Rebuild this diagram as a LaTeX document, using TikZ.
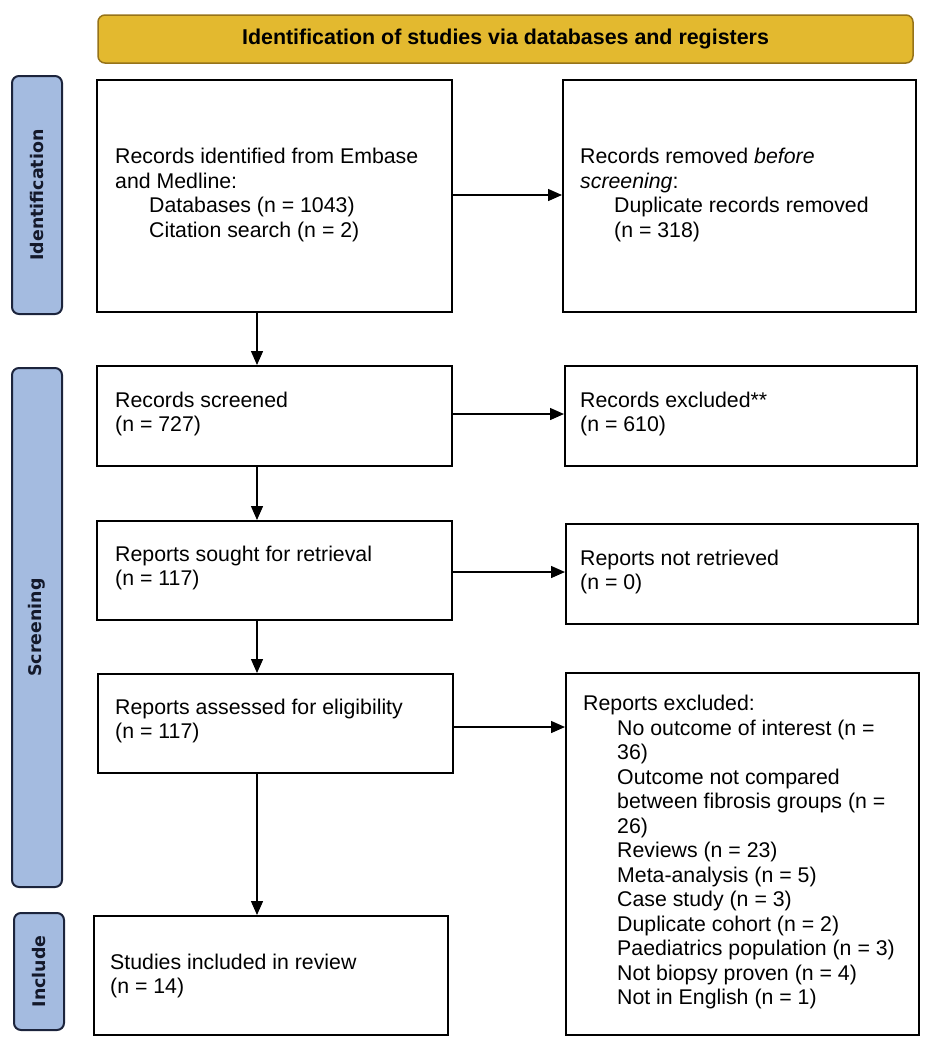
\documentclass[tikz,border=0pt]{standalone}
\usepackage{fontspec}
\setmainfont{Liberation Sans}
\newfontfamily\sidefont{DejaVu Sans}
\usetikzlibrary{arrows.meta,calc}
\definecolor{gold}{RGB}{227,185,47}
\definecolor{goldline}{RGB}{150,115,25}
\definecolor{sideblue}{RGB}{164,187,224}
\definecolor{navy}{RGB}{28,36,60}
\newcommand{\bx}[6]{\node[#6, minimum width={#4-#2}, minimum height={#5-#3}] (#1) at ({(#2+#4)/2},{(#3+#5)/2}) {};}
\newcommand{\ind}{\hspace*{34pt}}
\begin{document}
\begin{tikzpicture}[x=1pt,y=-1pt,
  box/.style={draw=black,line width=2pt,inner sep=0pt,fill=white},
  txt/.style={anchor=west,align=left,inner sep=0pt,font=\fontsize{21.3}{24.5}\selectfont},
  side/.style={draw=navy,fill=sideblue,line width=2pt,rounded corners=7pt,inner sep=0pt},
  sidetxt/.style={rotate=90,inner sep=0pt,font=\sidefont\fontsize{17.4}{20}\selectfont\bfseries,text=navy!70!black},
  banner/.style={draw=goldline,fill=gold,line width=1.5pt,rounded corners=7pt,inner sep=0pt},
  arr/.style={line width=1.4pt,-{Triangle[length=14pt,width=12pt]}}]
\useasboundingbox (0,0) rectangle (934,1050);
% banner
\bx{ban}{98}{15}{913}{63}{banner}
\node[font=\fontsize{21.4}{22}\selectfont\bfseries] (bant) at (ban) {Identification of studies via databases and registers};
% side labels
\bx{sid}{12}{76}{62}{314}{side}
\node[sidetxt] (sidt) at (sid) {Identification};
\bx{sscr}{12}{368}{62}{887}{side}
\node[sidetxt] (sscrt) at (sscr) {Screening};
\bx{sinc}{14}{913}{64}{1030}{side}
\node[sidetxt] (sinct) at (sinc) {Include};
% boxes
\bx{b1}{97}{80}{452}{312}{box}
\bx{b2}{563}{80}{916}{312}{box}
\bx{b3}{97}{366}{452}{466}{box}
\bx{b4}{565}{366}{917}{466}{box}
\bx{b5}{97}{521}{452}{620}{box}
\bx{b6}{566}{524}{918}{624}{box}
\bx{b7}{98}{674}{453}{773}{box}
\bx{b8}{566}{673}{919}{1035}{box}
\bx{b9}{94}{916}{448}{1035}{box}
% texts
\node[txt] (t1) at (115,195) {Records identified from Embase\\and Medline:\\\ind Databases (n = 1043)\\\ind Citation search (n = 2)};
\node[txt] (t2) at (580,195) {Records removed \textit{before}\\\textit{screening}:\\\ind Duplicate records removed\\\ind (n = 318)};
\node[txt] (t3) at (115,414) {Records screened\\(n = 727)};
\node[txt] (t4) at (580,414) {Records excluded**\\(n = 610)};
\node[txt] (t5) at (115,568) {Reports sought for retrieval\\(n = 117)};
\node[txt] (t6) at (580,572) {Reports not retrieved\\(n = 0)};
\node[txt] (t7) at (115,721) {Reports assessed for eligibility\\(n = 117)};
\node[txt] (t8) at (583,852) {Reports excluded:\\\ind No outcome of interest (n =\\\ind 36)\\\ind Outcome not compared\\\ind between fibrosis groups (n =\\\ind 26)\\\ind Reviews (n = 23)\\\ind Meta-analysis (n = 5)\\\ind Case study (n = 3)\\\ind Duplicate cohort (n = 2)\\\ind Paediatrics population (n = 3)\\\ind Not biopsy proven (n = 4)\\\ind Not in English (n = 1)};
\node[txt] (t9) at (110,976) {Studies included in review\\(n = 14)};
% horizontal arrows
\coordinate (h1) at (0,195);
\coordinate (h2) at (0,414);
\coordinate (h3) at (0,572);
\coordinate (h4) at (0,727);
\draw[arr] (b1.east |- h1) -- (b2.west |- h1);
\draw[arr] (b3.east |- h2) -- (b4.west |- h2);
\draw[arr] (b5.east |- h3) -- (b6.west |- h3);
\draw[arr] (b7.east |- h4) -- (b8.west |- h4);
% vertical arrows
\coordinate (vx) at (257,0);
\draw[arr] (b1.south -| vx) -- (b3.north -| vx);
\draw[arr] (b3.south -| vx) -- (b5.north -| vx);
\draw[arr] (b5.south -| vx) -- (b7.north -| vx);
\draw[arr] (b7.south -| vx) -- (b9.north -| vx);
\end{tikzpicture}
\end{document}
